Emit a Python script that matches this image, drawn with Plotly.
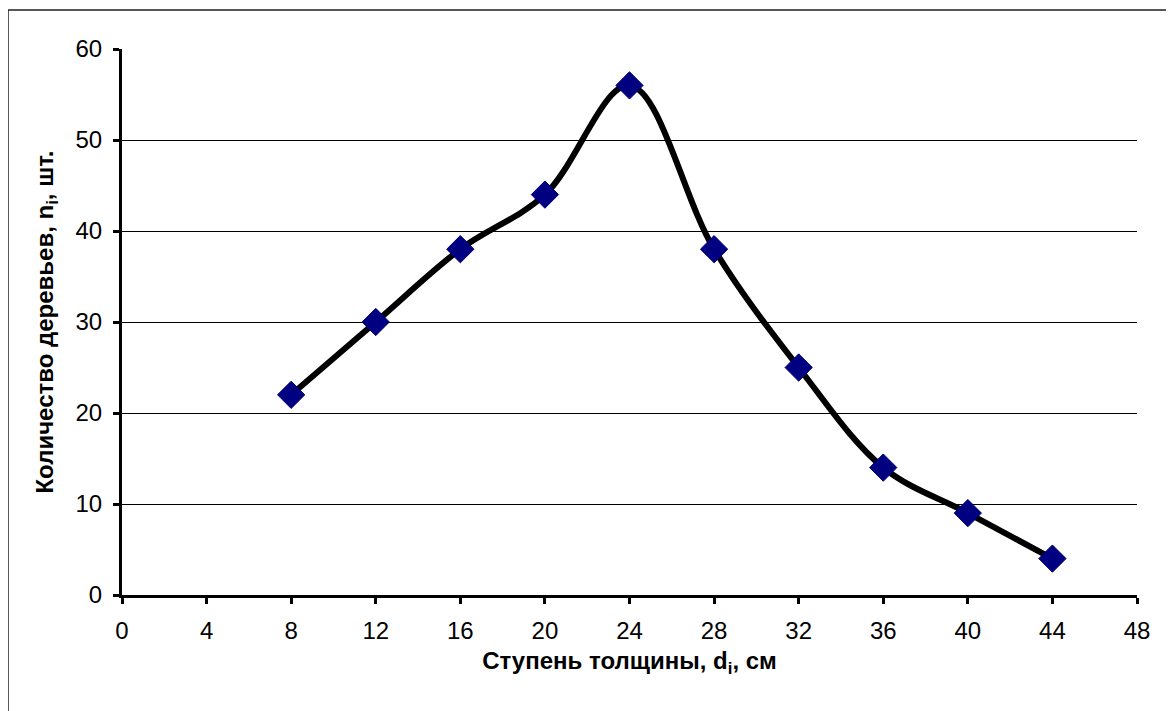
"""
Распределение деревьев по ступеням толщины — сглаженная кривая в стиле Excel.
"""
import plotly.graph_objects as go

# ─── ДАННЫЕ ────────────────────────────────────────────────────

diameters = [8, 12, 16, 20, 24, 28, 32, 36, 40, 44]
tree_counts = [22, 30, 38, 44, 56, 38, 25, 14, 9, 4]

x_ticks = [0, 4, 8, 12, 16, 20, 24, 28, 32, 36, 40, 44, 48]
y_ticks = [0, 10, 20, 30, 40, 50, 60]

x_title = "Ступень толщины, d<sub>i</sub>, см"
y_title = "Количество деревьев, n<sub>i</sub>, шт."

FONT = "Liberation Sans, Arial, sans-serif"
# страница имеет отступ 8px, поэтому фигура чуть меньше окна
W, H = 1166, 703
L, R, T, B = 114, 37, 41, 116

fig = go.Figure(go.Scatter(
    x=diameters, y=tree_counts,
    mode="lines+markers",
    line=dict(color="black", width=6, shape="spline", smoothing=1),
    marker=dict(symbol="diamond", size=21, color="#000080",
                line=dict(color="#000080", width=1)),
    showlegend=False,
))

fig.update_layout(
    width=W, height=H,
    margin=dict(l=L, r=R, t=T, b=B),
    paper_bgcolor="white",
    plot_bgcolor="white",
    font=dict(family=FONT, size=24, color="black"),
    xaxis=dict(
        range=[0, 48], tickvals=x_ticks, showgrid=False, zeroline=False,
        showline=True, linecolor="black", linewidth=3,
        ticks="outside", ticklen=6, tickwidth=3, tickcolor="black",
        ticklabelstandoff=6,
        title=dict(text=x_title, font=dict(size=24, family=FONT, weight="bold"),
                   standoff=10),
    ),
    yaxis=dict(
        range=[0, 60], tickvals=y_ticks, showgrid=True, gridcolor="black",
        gridwidth=1, zeroline=False,
        showline=True, linecolor="black", linewidth=3,
        ticks="outside", ticklen=6, tickwidth=3, tickcolor="black",
        ticklabelstandoff=6,
        title=dict(text=y_title, font=dict(size=24, family=FONT, weight="bold"),
                   standoff=16),
    ),
    shapes=[dict(
        type="rect", xref="paper", yref="paper",
        x0=-L / (W - L - R), x1=1.2,
        y0=-0.4, y1=(H - B - 2) / (H - T - B),
        line=dict(color="#222222", width=1.5),
    )],
)

fig.write_html("out.html")
